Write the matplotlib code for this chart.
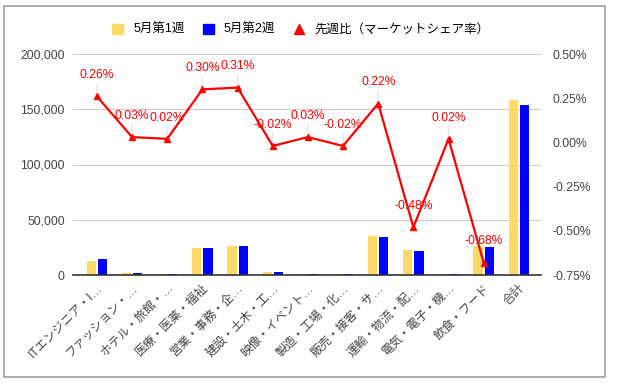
import numpy as np
import matplotlib.pyplot as plt
from matplotlib.patches import Patch, Rectangle
from matplotlib.lines import Line2D
from matplotlib.ticker import FuncFormatter

plt.rcParams['font.family'] = ['Liberation Sans', 'Noto Sans CJK JP', 'DejaVu Sans']

categories = ["ITエンジニア・I…", "ファッション・…", "ホテル・旅館・…", "医療・医薬・福祉",
              "営業・事務・企…", "建設・土木・工…", "映像・イベント…", "製造・工場・化…",
              "販売・接客・サ…", "運輸・物流・配…", "電気・電子・機…", "飲食・フード", "合計"]
week1 = [12700, 1800, 1000, 24400, 26200, 3000, 1000, 1000, 35300, 22600, 700, 26000, 158100]
week2 = [14200, 1900, 1100, 24500, 26300, 2900, 1100, 1100, 34500, 21700, 800, 25300, 153600]
share_change = [0.26, 0.03, 0.02, 0.30, 0.31, -0.02, 0.03, -0.02, 0.22, -0.48, 0.02, -0.68]

yellow = '#FFD966'
blue = '#0000FF'
red = '#FF0000'

fig = plt.figure(figsize=(6.17, 3.84), dpi=100)
ax = fig.add_axes([73 / 617, 1 - 275 / 384, 468 / 617, 221 / 384])
ax2 = ax.twinx()

x = np.arange(len(categories))
w = 0.26
ax.bar(x - 0.16, week1, w, color=yellow, zorder=2)
ax.bar(x + 0.16, week2, w, color=blue, zorder=2)

ax.set_ylim(0, 200000)
ax.set_yticks([0, 50000, 100000, 150000, 200000])
ax.yaxis.set_major_formatter(FuncFormatter(lambda v, p: f"{int(v):,}"))
ax.set_xlim(-0.68, 12.63)
ax.set_xticks(x)
ax.set_xticklabels(categories, rotation=45, ha='right', rotation_mode='anchor',
                   fontsize=8.7, color='#555555')
ax.grid(axis='y', color='#cccccc', lw=0.8, zorder=0)
ax.tick_params(axis='both', length=0, labelsize=8.7, labelcolor='#444444')
ax.tick_params(axis='y', pad=6)
ax.tick_params(axis='x', pad=5)
for s in ['top', 'right', 'left']:
    ax.spines[s].set_visible(False)
ax.spines['bottom'].set_color('#333333')
ax.spines['bottom'].set_linewidth(1.2)
ax.spines['bottom'].set_zorder(3)

xl = x[:len(share_change)]
ax2.plot(xl, share_change, color=red, lw=1.6, marker='^', ms=5, zorder=4)
for xi, v in zip(xl, share_change):
    ax2.annotate(f"{v:.2f}%", (xi, v), xytext=(0, 11), textcoords='offset points',
                 ha='center', va='bottom', color=red, fontsize=8.7,
                 arrowprops=dict(arrowstyle='-', color='#e6e6e6', lw=1, shrinkA=0, shrinkB=2))
ax2.set_ylim(-0.75, 0.5)
ax2.set_yticks([-0.75, -0.5, -0.25, 0, 0.25, 0.5])
ax2.yaxis.set_major_formatter(FuncFormatter(lambda v, p: f"{v:.2f}%"))
ax2.tick_params(axis='y', length=0, labelsize=8.7, labelcolor='#444444', pad=8)
for s in ax2.spines.values():
    s.set_visible(False)

handles = [Patch(color=yellow), Patch(color=blue),
           Line2D([], [], color=red, marker='^', ls='none', ms=7)]
fig.legend(handles, ["5月第1週", "5月第2週", "先週比（マーケットシェア率）"],
           loc='center', bbox_to_anchor=(301 / 617, 1 - 30 / 384), ncol=3, frameon=False,
           fontsize=9, handlelength=0.85, handleheight=0.85, handletextpad=0.8,
           columnspacing=1.5)

fig.patches.append(Rectangle((4 / 617, 1 - 377 / 384), 601 / 617, 371 / 384,
                             transform=fig.transFigure, fill=False,
                             edgecolor='#9e9e9e', lw=1.2))

fig.savefig('out.png', dpi=100)
